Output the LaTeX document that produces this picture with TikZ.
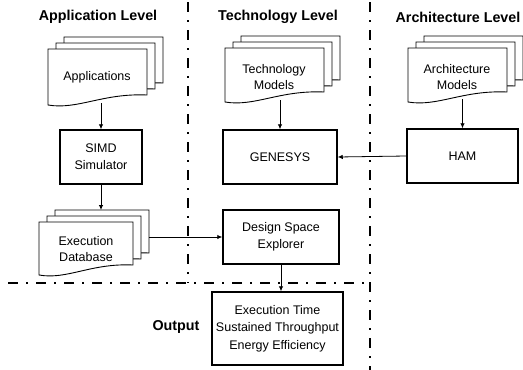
\documentclass[tikz,border=0pt]{standalone}
\usepackage{fontspec}
\setmainfont{Liberation Sans}
\usetikzlibrary{arrows.meta}
\newcommand\docpage[4]{%
  \pgfmathsetmacro\dR{#1+#3}%
  \pgfmathsetmacro\dB{#2+#4}%
  \pgfmathsetmacro\dBr{#2+#4-10}%
  \pgfmathsetmacro\dcA{#1+0.55*#3}%
  \pgfmathsetmacro\dcB{#1+0.3*#3}%
  \pgfmathsetmacro\dcAy{#2+#4-12}%
  \pgfmathsetmacro\dcBy{#2+#4+5}%
  \filldraw[page] (#1,#2) -- (\dR,#2) -- (\dR,\dBr) .. controls (\dcA,\dcAy) and (\dcB,\dcBy) .. (#1,\dB) -- cycle;}
\newcommand\docstack[4]{\docpage{#1+16}{#2-12}{#3}{#4}\docpage{#1+8}{#2-6}{#3}{#4}\docpage{#1}{#2}{#3}{#4}}
\begin{document}
\begin{tikzpicture}[x=1pt,y=-1pt,
  box/.style={draw, line width=1.5pt, fill=white, inner sep=0pt, align=center, font=\fontsize{12.5}{17}\selectfont},
  page/.style={draw, line width=0.9pt, fill=white},
  lbl/.style={align=center, font=\fontsize{12.5}{16}\selectfont},
  hdr/.style={font=\bfseries\fontsize{14.3}{17}\selectfont},
  arr/.style={-{Latex[length=5pt,width=4.5pt]}, line width=0.8pt},
  sep/.style={line width=2.4pt, dash pattern=on 10pt off 8pt on 2pt off 8pt}]
\useasboundingbox (0,0) rectangle (523,370);
% separators
\draw[sep] (188,2) -- (188,283);
\draw[sep] (370,2) -- (370,370);
\draw[sep] (8,283) -- (370,283);
% headers
\node[hdr] (h1) at (98,17) {Application Level};
\node[hdr] (h2) at (278,17) {Technology Level};
\node[hdr] (h3) at (458,17) {Architecture Level};
\node[hdr] (outl) at (176,327) {Output};
% document stacks
\docstack{48}{49}{99}{56}
\docstack{225}{48}{99}{54}
\docstack{408}{48}{99}{54}
\docstack{39}{222}{94}{53}
\node[lbl] (apps) at (97,77) {Applications};
\node[lbl] (tech) at (274,77) {Technology\\Models};
\node[lbl] (arch) at (457,77) {Architecture\\Models};
\node[lbl] (db) at (86,249) {Execution\\Database};
\coordinate (appsB) at (101,103);
\coordinate (techB) at (280,100);
\coordinate (archB) at (462.5,99);
\coordinate (dbT) at (101,210);
\coordinate (dbR) at (149,237);
% boxes
\node[box, minimum width=82pt, minimum height=54pt] (simd) at (101,157) {SIMD\\Simulator};
\node[box, minimum width=114pt, minimum height=54pt] (genesys) at (280,157) {GENESYS};
\node[box, minimum width=111pt, minimum height=54pt] (ham) at (462.5,156) {HAM};
\node[box, minimum width=116pt, minimum height=54pt] (dse) at (281,237) {Design Space\\Explorer};
\node[box, minimum width=131pt, minimum height=73pt, font=\fontsize{12.5}{17.5}\selectfont] (out) at (277.5,328.5) {Execution Time\\Sustained Throughput\\Energy Efficiency};
% connectors
\draw[arr] (appsB) -- (simd.north);
\draw[arr] (simd.south) -- (dbT);
\draw[arr] (dbR) -- (dse.west);
\draw[arr] (techB) -- (genesys.north);
\draw[arr] (archB) -- (ham.north);
\draw[arr] (ham.west) -- (genesys.east);
\draw[arr] (dse.south) -- (dse.south |- out.north);
\end{tikzpicture}
\end{document}
